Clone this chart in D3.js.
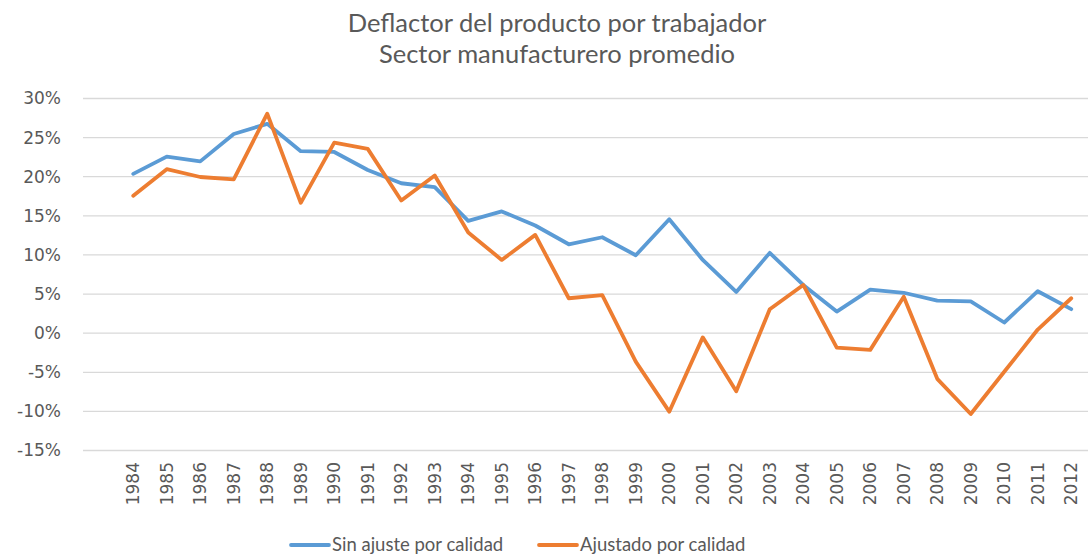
<!DOCTYPE html>
<html>
<head>
<meta charset="utf-8">
<script src="https://cdn.jsdelivr.net/npm/d3@7"></script>
<style>
  body { margin: 0; background: #fff; }
  text { font-family: Lato, "Open Sans", sans-serif; fill: #595959; }
</style>
</head>
<body>
<div id="chart"></div>
<script>
// data (annual % change)
var years = ["1984","1985","1986","1987","1988","1989","1990","1991","1992","1993",
             "1994","1995","1996","1997","1998","1999","2000","2001","2002","2003",
             "2004","2005","2006","2007","2008","2009","2010","2011","2012"];
var sinAjuste = [20.3, 22.5, 21.9, 25.4, 26.7, 23.2, 23.1, 20.8, 19.1, 18.6,
                 14.3, 15.5, 13.7, 11.3, 12.2, 9.9, 14.5, 9.3, 5.2, 10.2,
                 6.1, 2.7, 5.5, 5.1, 4.1, 4.0, 1.3, 5.3, 3.0];
var ajustado = [17.5, 20.9, 19.9, 19.6, 28.0, 16.6, 24.3, 23.5, 16.9, 20.1,
                12.8, 9.3, 12.5, 4.4, 4.8, -3.7, -10.1, -0.6, -7.5, 3.0,
                6.1, -1.9, -2.2, 4.6, -5.9, -10.4, -5.0, 0.4, 4.4];
var yTicks = [-15, -10, -5, 0, 5, 10, 15, 20, 25, 30];
var titleLines = ["Deflactor del producto por trabajador", "Sector manufacturero promedio"];
var seriesNames = ["Sin ajuste por calidad", "Ajustado por calidad"];
var seriesColors = ["#5B9BD5", "#ED7D31"];

function init() {
    var w = 1092, h = 559;
    var margin = {left: 83, right: 4, top: 98, bottom: 109};

    var svg = d3.select("#chart").append("svg")
        .attr("width", w).attr("height", h);

    // first band is left empty in the original sheet
    var x = d3.scaleBand()
        .domain([""].concat(years))
        .range([margin.left, w - margin.right]);

    var y = d3.scaleLinear()
        .domain([-15, 30])
        .range([h - margin.bottom, margin.top]);

    // title
    svg.selectAll(".title")
       .data(titleLines)
       .enter().append("text")
       .attr("class", "title")
       .attr("x", 557)
       .attr("y", function(d, i) { return 32 + i * 31; })
       .attr("text-anchor", "middle")
       .style("font-size", "25.5px")
       .text(function(d) { return d; });

    // gridlines + y labels
    var yAxis = d3.axisLeft(y).tickValues(yTicks)
        .tickSize(-(w - margin.right - margin.left))
        .tickFormat(function(d) { return d + "%"; });
    var gy = svg.append("g")
        .attr("transform", "translate(" + margin.left + ",0)")
        .call(yAxis);
    gy.select(".domain").remove();
    gy.selectAll(".tick line").attr("stroke", "#d9d9d9").attr("stroke-width", 1.3);
    gy.selectAll(".tick text").attr("x", -22).attr("dy", "0.35em")
      .style("font-family", "'DejaVu Sans', sans-serif")
      .style("font-size", "17px").attr("fill", "#595959");

    // x labels, rotated
    var xAxis = d3.axisBottom(x).tickValues(years).tickSize(0);
    var gx = svg.append("g")
        .attr("transform", "translate(0," + y(-15) + ")")
        .call(xAxis);
    gx.select(".domain").remove();
    gx.selectAll(".tick text")
      .attr("transform", "rotate(-90)")
      .attr("text-anchor", "end")
      .attr("x", -12).attr("y", 0).attr("dy", "0.35em")
      .style("font-family", "'DejaVu Sans', sans-serif")
      .style("font-size", "17px").attr("fill", "#595959");

    var line = d3.line()
        .x(function(d, i) { return x(years[i]) + x.bandwidth() / 2; })
        .y(function(d) { return y(d); });

    [sinAjuste, ajustado].forEach(function(s, k) {
        svg.append("path")
           .datum(s)
           .attr("d", line)
           .attr("fill", "none")
           .attr("stroke", seriesColors[k])
           .attr("stroke-width", 3.8)
           .attr("stroke-linejoin", "round")
           .attr("stroke-linecap", "round");
    });

    // legend
    var legX = [291, 539];
    var leg = svg.selectAll(".leg")
        .data(seriesNames)
        .enter().append("g")
        .attr("transform", function(d, i) { return "translate(" + legX[i] + ",545)"; });
    leg.append("line")
       .attr("x1", 0).attr("x2", 38)
       .attr("stroke", function(d, i) { return seriesColors[i]; })
       .attr("stroke-width", 3.8)
       .attr("stroke-linecap", "round");
    leg.append("text")
       .attr("x", 41).attr("dy", "0.35em")
       .style("font-size", "18.5px")
       .text(function(d) { return d; });
}

window.onload = init;
</script>
</body>
</html>
